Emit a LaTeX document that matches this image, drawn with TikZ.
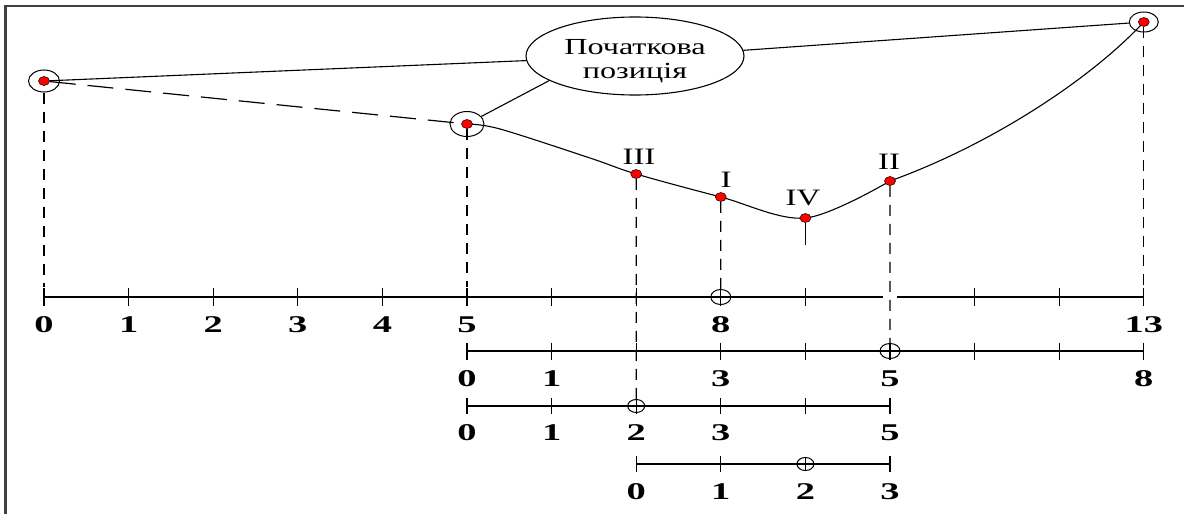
\documentclass[tikz,border=0pt]{standalone}
\usepackage{fontspec}
\setmainfont{Liberation Serif}
\usetikzlibrary{shapes.geometric,backgrounds}
\newcommand\axnum[1]{\scalebox{1.6}[1]{\bfseries #1}}
\newcommand\romn[1]{\scalebox{1.4}[1]{#1}}
\begin{document}
\begin{tikzpicture}[x=1pt,y=-1pt,
  frame/.style={line width=2.5pt, draw=black!75},
  axisln/.style={line width=1.3pt},
  axtick/.style={line width=1.3pt},
  vdash/.style={line width=1.2pt, dash pattern=on 11pt off 8pt},
  hdash/.style={line width=1.2pt, dash pattern=on 26pt off 12pt},
  thinln/.style={line width=1.1pt},
  dot/.style={ellipse, fill=red, draw=black, line width=0.5pt, minimum width=11pt, minimum height=9pt, inner sep=0pt},
  ring/.style={ellipse, draw, line width=1pt, minimum width=31pt, minimum height=22pt, inner sep=0pt},
  axcirc/.style={ellipse, draw, line width=1pt, minimum width=20pt, minimum height=15pt, inner sep=0pt},
  axcircs/.style={ellipse, draw, line width=1pt, minimum width=17pt, minimum height=13pt, inner sep=0pt},
  numlab/.style={anchor=base, inner sep=0pt, font=\fontsize{24}{24}\selectfont},
  romlab/.style={anchor=base, inner sep=0pt, font=\fontsize{23.5}{24}\selectfont},
  elltxt/.style={anchor=base, inner sep=0pt, font=\fontsize{23}{23}\selectfont},
]
\useasboundingbox (0,0) rectangle (1184,514);

% ---------- points ----------
\node[ring] (P0r) at (44,81) {};
\node[dot] (P0) at (44,81) {};
\node[ring, minimum width=34pt, minimum height=25pt] (P5r) at (467,124) {};
\node[dot] (P5) at (467,124) {};
\node[ring, minimum width=29pt, minimum height=20pt] (P13r) at (1143.8,22) {};
\node[dot] (P13) at (1143.8,22) {};
\node[dot] (p3) at (636.2,174) {};
\node[dot] (p1) at (720.8,197) {};
\node[dot] (p4) at (805.4,218) {};
\node[dot] (p2) at (890,181) {};

\node[romlab] (l3) at (639,164) {\romn{III}};
\node[romlab] (l1) at (726,187) {\romn{I}};
\node[romlab] (l4) at (803,205) {\romn{IV}};
\node[romlab] (l2) at (889,169) {\romn{II}};

% ---------- ellipse ----------
\node[ellipse, draw, line width=1.1pt, minimum width=218pt, minimum height=78pt, inner sep=0pt] (ell) at (635,56) {};
\node[elltxt] (ellt1) at (635,54) {\scalebox{1.4}[1]{Початкова}};
\node[elltxt] (ellt2) at (635,78) {\scalebox{1.4}[1]{позиція}};

% ---------- axis markers ----------
\node[axcirc] (m1) at ({44+84.6*8},297) {};
\node[axcirc] (m2) at ({467+84.6*5},351) {};
\node[axcircs] (m3) at ({467+84.6*2},406) {};
\node[axcircs] (m4) at ({636.2+84.6*2},464) {};

% ---------- end coordinates ----------
\coordinate (e0) at (44,287);
\coordinate (e5) at (467,287);
\coordinate (e4) at (805.4,245);
\coordinate (e13) at (1143.8,287);

% ---------- labels ----------
\foreach \k in {0,1,2,3,4,5,8,13}
  \node[numlab] (a\k) at ({44+84.6*\k},332) {\axnum{\k}};
\foreach \k in {0,1,3,5,8}
  \node[numlab] (b\k) at ({467+84.6*\k},386) {\axnum{\k}};
\foreach \k in {0,1,2,3,5}
  \node[numlab] (c\k) at ({467+84.6*\k},440) {\axnum{\k}};
\foreach \k in {0,1,2,3}
  \node[numlab] (d\k) at ({636.2+84.6*\k},499) {\axnum{\k}};

\begin{pgfonlayer}{background}
  % frame
  \draw[frame] (5.5,514) -- (5.5,6) -- (1184,6);
  % axis 1
  \draw[axisln] (44,297) -- (883,297);
  \draw[axisln] (897,297) -- (1143.8,297);
  \foreach \k in {0,...,9,11,12,13}
    \draw[axtick] ({44+84.6*\k},288) -- ({44+84.6*\k},306);
  % axis 2
  \draw[axisln] (467,351) -- (1143.8,351);
  \foreach \k in {0,...,8}
    \draw[axtick] ({467+84.6*\k},342.5) -- ({467+84.6*\k},359.5);
  % axis 3
  \draw[axisln] (467,406) -- (890,406);
  \foreach \k in {0,...,5}
    \draw[axtick] ({467+84.6*\k},398) -- ({467+84.6*\k},414);
  % axis 4
  \draw[axisln] (636.2,464) -- (890,464);
  \foreach \k in {0,1,3}
    \draw[axtick] ({636.2+84.6*\k},456) -- ({636.2+84.6*\k},472);
  \draw[axtick] (805.4,457) -- (805.4,471);

  % connectors
  \draw[thinln] (P0) -- (ell);
  \draw[hdash] (P0) -- (P5);
  \draw[thinln] (ell.196) -- (P5r);
  \draw[thinln] (ell.3) -- (P13r);
  \draw[thinln] plot[smooth, tension=0.55] coordinates {(P5.center) (500,129) (590,158) (p3.center) (p1.center) (p4.center) (p2.center)}
      .. controls (990,145) and (1090,80) .. (P13.center);

  % vertical dashed
  \draw[vdash] (P0r) -- (e0);
  \draw[vdash] (P5) -- (e5);
  \draw[vdash] (p3) -- (m3);
  \draw[vdash] (p1) -- (m1);
  \draw[vdash, dash pattern=on 22pt off 8pt] (p4) -- (e4);
  \draw[vdash] (p2) -- (m2);
  \draw[vdash] (P13) -- (e13);
\end{pgfonlayer}
\end{tikzpicture}
\end{document}
